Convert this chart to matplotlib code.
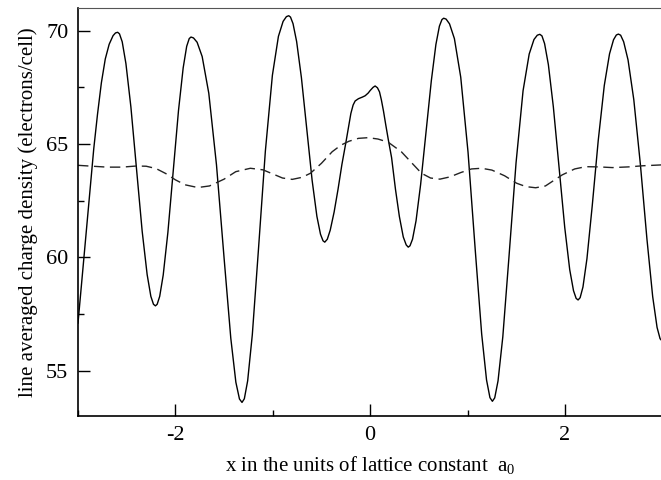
import matplotlib
matplotlib.use('agg')
import matplotlib.pyplot as plt
from matplotlib.ticker import MultipleLocator

plt.rcParams['font.family'] = 'Liberation Serif'
plt.rcParams['mathtext.fontset'] = 'custom'
plt.rcParams['mathtext.rm'] = 'Liberation Serif'
plt.rcParams['mathtext.it'] = 'Liberation Serif'
plt.rcParams['axes.unicode_minus'] = False

# solid curve
x_solid = [-3.0, -2.935, -2.87, -2.838, -2.80, -2.76, -2.72, -2.68, -2.64, -2.615, -2.593,
           -2.574, -2.546, -2.508, -2.457, -2.399, -2.341, -2.290, -2.252, -2.225, -2.205,
           -2.187, -2.161, -2.125, -2.077, -2.023, -1.968, -1.920, -1.884, -1.858, -1.84,
           -1.814, -1.777, -1.725, -1.657, -1.578, -1.499, -1.431, -1.379, -1.342, -1.316,
           -1.292, -1.258, -1.210, -1.148, -1.076, -1.004, -0.942, -0.894, -0.860, -0.836,
           -0.818, -0.792, -0.755, -0.706, -0.651, -0.596, -0.547, -0.510, -0.484, -0.466,
           -0.44, -0.41, -0.37, -0.33, -0.29, -0.25, -0.22, -0.198, -0.175, -0.154, -0.12,
           -0.08, -0.051, -0.02, 0.0, 0.03, 0.051, 0.075, 0.096, 0.115, 0.137, 0.16, 0.188,
           0.22, 0.26, 0.30, 0.34, 0.37, 0.391,
           0.409, 0.435, 0.471, 0.518, 0.573, 0.628, 0.675, 0.711, 0.737, 0.755,
           0.780, 0.815, 0.865, 0.930, 1.005, 1.080, 1.145, 1.195, 1.230, 1.255,
           1.279, 1.313, 1.362, 1.425, 1.498, 1.570, 1.633, 1.682, 1.716, 1.742,
           1.764, 1.791, 1.830, 1.881, 1.940, 1.998, 2.049, 2.088, 2.115, 2.135,
           2.156, 2.185, 2.226, 2.280, 2.342, 2.404, 2.458, 2.499, 2.528, 2.549,
           2.572, 2.603, 2.648, 2.707, 2.775, 2.842, 2.901, 2.946, 2.977, 3.0]
y_solid = [57.1, 60.2, 63.3, 64.8, 66.3, 67.7, 68.75, 69.4, 69.78, 69.9, 69.93,
           69.86, 69.51, 68.55, 66.64, 63.90, 61.15, 59.24, 58.28, 57.93, 57.86,
           57.93, 58.28, 59.22, 61.10, 63.79, 66.48, 68.36, 69.31, 69.65, 69.72,
           69.68, 69.49, 68.86, 67.24, 64.08, 59.92, 56.43, 54.49, 53.75, 53.6,
           53.76, 54.55, 56.59, 60.29, 64.69, 68.03, 69.75, 70.41, 70.62, 70.66,
           70.60, 70.31, 69.52, 67.93, 65.67, 63.40, 61.81, 61.02, 60.73, 60.67,
           60.8, 61.2, 62.0, 63.0, 64.1, 65.05, 65.8, 66.35, 66.72, 66.9, 67.0,
           67.07, 67.13, 67.25, 67.36, 67.5, 67.56, 67.48, 67.3, 66.95, 66.45, 65.85, 65.15,
           64.4, 63.0, 61.8, 60.9, 60.55, 60.45,
           60.51, 60.80, 61.61, 63.21, 65.5, 67.79, 69.39, 70.20, 70.49, 70.55,
           70.51, 70.30, 69.65, 67.95, 64.64, 60.27, 56.62, 54.59, 53.81, 53.65,
           53.80, 54.55, 56.49, 60.00, 64.17, 67.35, 68.97, 69.61, 69.80, 69.84,
           69.77, 69.43, 68.50, 66.64, 63.98, 61.32, 59.46, 58.53, 58.19, 58.12,
           58.22, 58.69, 59.94, 62.26, 65.16, 67.58, 68.98, 69.60, 69.81, 69.85,
           69.80, 69.51, 68.71, 66.96, 64.09, 60.81, 58.27, 56.91, 56.41, 56.30]

# dashed curve
x_dash = [-3.0, -2.85, -2.7, -2.55, -2.4, -2.3, -2.2, -2.1, -2.0, -1.9, -1.77, -1.65,
          -1.5, -1.38, -1.23, -1.1, -1.0, -0.9, -0.8, -0.7, -0.613, -0.5, -0.39, -0.3,
          -0.219, -0.12, -0.02, 0.08, 0.185, 0.32, 0.42, 0.527, 0.62, 0.716, 0.82, 0.93,
          1.04, 1.144, 1.25, 1.38, 1.504, 1.6, 1.699, 1.8, 1.973, 2.1, 2.213, 2.35,
          2.487, 2.65, 2.8, 3.0]
y_dash = [64.06, 64.02, 63.98, 63.98, 64.03, 64.02, 63.92, 63.7, 63.42, 63.2, 63.08, 63.15,
          63.45, 63.78, 63.93, 63.86, 63.68, 63.5, 63.44, 63.53, 63.71, 64.15, 64.66, 64.95,
          65.12, 65.25, 65.28, 65.22, 65.08, 64.66, 64.2, 63.71, 63.5, 63.45, 63.55, 63.74,
          63.9, 63.93, 63.85, 63.6, 63.27, 63.12, 63.07, 63.15, 63.64, 63.9, 64.0, 63.99,
          63.96, 63.99, 64.04, 64.08]

fig = plt.figure(figsize=(6.61, 4.80), dpi=100)
ax = fig.add_axes([0.118, 0.1333, 0.884, 0.85])

ax.plot(x_solid, y_solid, color='black', lw=1.0, solid_joinstyle='round')
ax.plot(x_dash, y_dash, color='#222222', lw=1.0, dashes=(7.5, 4))

ax.set_xlim(-3, 3)
ax.set_ylim(53, 71)
ax.xaxis.set_major_locator(MultipleLocator(2))
ax.xaxis.set_minor_locator(MultipleLocator(1))
ax.yaxis.set_major_locator(MultipleLocator(5))
ax.yaxis.set_minor_locator(MultipleLocator(2.5))
ax.tick_params(which='both', direction='in', top=False, right=False, labelsize=16, width=1.0)
ax.tick_params(which='major', length=8.5, pad=7)
ax.tick_params(which='minor', length=4.5)
ax.spines['right'].set_visible(False)
ax.spines['top'].set_color('#555555')
ax.spines['top'].set_linewidth(0.8)
ax.spines['left'].set_linewidth(1.2)
ax.spines['bottom'].set_linewidth(1.2)

ax.set_xlabel(r'x in the units of lattice constant  a$_0$', fontsize=15, labelpad=7)
ax.set_ylabel('line averaged charge density (electrons/cell)', fontsize=15, labelpad=6)

fig.savefig('out.png', dpi=100)
